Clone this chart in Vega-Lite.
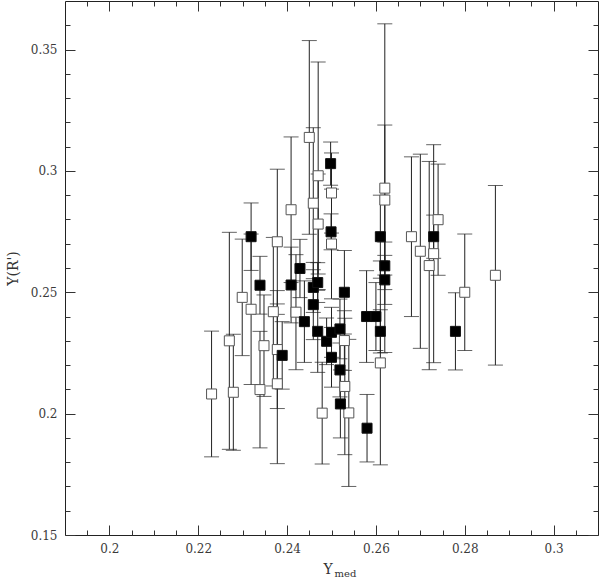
{
  "$schema": "https://vega.github.io/schema/vega-lite/v6.json",
  "width": 533,
  "height": 534,
  "autosize": {"type": "none"},
  "padding": {"left": 65, "top": 1, "right": 1, "bottom": 43},
  "background": "white",
  "config": {
    "view": {"stroke": "#222", "strokeWidth": 1},
    "axis": {
      "labelFont": "DejaVu Serif", "titleFont": "DejaVu Serif",
      "labelFontSize": 12, "labelColor": "#3a3a3a", "titleColor": "#333",
      "titleFontWeight": "normal", "tickColor": "#333", "tickWidth": 1,
      "domain": false, "grid": false
    }
  },
  "data": {"values": [
    {"x":0.2230,"y":0.2081,"e":0.0259,"k":"open"},
    {"x":0.2270,"y":0.2300,"e":0.0447,"k":"open"},
    {"x":0.2279,"y":0.2088,"e":0.0239,"k":"open"},
    {"x":0.2299,"y":0.2479,"e":0.0240,"k":"open"},
    {"x":0.2319,"y":0.2430,"e":0.0310,"k":"open"},
    {"x":0.2339,"y":0.2099,"e":0.0240,"k":"open"},
    {"x":0.2348,"y":0.2280,"e":0.0209,"k":"open"},
    {"x":0.2369,"y":0.2420,"e":0.0306,"k":"open"},
    {"x":0.2378,"y":0.2708,"e":0.0299,"k":"open"},
    {"x":0.2378,"y":0.2264,"e":0.0243,"k":"open"},
    {"x":0.2378,"y":0.2123,"e":0.0329,"k":"open"},
    {"x":0.2409,"y":0.2840,"e":0.0300,"k":"open"},
    {"x":0.2420,"y":0.2418,"e":0.0237,"k":"open"},
    {"x":0.2450,"y":0.3138,"e":0.0399,"k":"open"},
    {"x":0.2459,"y":0.2867,"e":0.0311,"k":"open"},
    {"x":0.2470,"y":0.2980,"e":0.0469,"k":"open"},
    {"x":0.2470,"y":0.2781,"e":0.0206,"k":"open"},
    {"x":0.2479,"y":0.2002,"e":0.0210,"k":"open"},
    {"x":0.2500,"y":0.2909,"e":0.0165,"k":"open"},
    {"x":0.2500,"y":0.2699,"e":0.0226,"k":"open"},
    {"x":0.2529,"y":0.2301,"e":0.0123,"k":"open"},
    {"x":0.2530,"y":0.2112,"e":0.0281,"k":"open"},
    {"x":0.2539,"y":0.2003,"e":0.0303,"k":"open"},
    {"x":0.2610,"y":0.2209,"e":0.0420,"k":"open"},
    {"x":0.2620,"y":0.2929,"e":0.0677,"k":"open"},
    {"x":0.2620,"y":0.2880,"e":0.0309,"k":"open"},
    {"x":0.2680,"y":0.2729,"e":0.0329,"k":"open"},
    {"x":0.2700,"y":0.2669,"e":0.0400,"k":"open"},
    {"x":0.2720,"y":0.2610,"e":0.0429,"k":"open"},
    {"x":0.2730,"y":0.2659,"e":0.0449,"k":"open"},
    {"x":0.2740,"y":0.2799,"e":0.0229,"k":"open"},
    {"x":0.2800,"y":0.2500,"e":0.0240,"k":"open"},
    {"x":0.2869,"y":0.2570,"e":0.0370,"k":"open"},
    {"x":0.2319,"y":0.2729,"e":0.0139,"k":"filled"},
    {"x":0.2339,"y":0.2529,"e":0.0119,"k":"filled"},
    {"x":0.2389,"y":0.2240,"e":0.0139,"k":"filled"},
    {"x":0.2409,"y":0.2530,"e":0.0156,"k":"filled"},
    {"x":0.2429,"y":0.2598,"e":0.0120,"k":"filled"},
    {"x":0.2439,"y":0.2379,"e":0.0168,"k":"filled"},
    {"x":0.2459,"y":0.2449,"e":0.0144,"k":"filled"},
    {"x":0.2459,"y":0.2520,"e":0.0103,"k":"filled"},
    {"x":0.2469,"y":0.2540,"e":0.0082,"k":"filled"},
    {"x":0.2469,"y":0.2339,"e":0.0169,"k":"filled"},
    {"x":0.2489,"y":0.2298,"e":0.0096,"k":"filled"},
    {"x":0.2498,"y":0.3030,"e":0.0089,"k":"filled"},
    {"x":0.2499,"y":0.2749,"e":0.0074,"k":"filled"},
    {"x":0.2500,"y":0.2335,"e":0.0103,"k":"filled"},
    {"x":0.2500,"y":0.2232,"e":0.0123,"k":"filled"},
    {"x":0.2519,"y":0.2349,"e":0.0123,"k":"filled"},
    {"x":0.2519,"y":0.2180,"e":0.0111,"k":"filled"},
    {"x":0.2529,"y":0.2500,"e":0.0172,"k":"filled"},
    {"x":0.2520,"y":0.2040,"e":0.0140,"k":"filled"},
    {"x":0.2580,"y":0.1940,"e":0.0139,"k":"filled"},
    {"x":0.2579,"y":0.2400,"e":0.0189,"k":"filled"},
    {"x":0.2600,"y":0.2400,"e":0.0140,"k":"filled"},
    {"x":0.2610,"y":0.2729,"e":0.0171,"k":"filled"},
    {"x":0.2620,"y":0.2609,"e":0.0098,"k":"filled"},
    {"x":0.2620,"y":0.2551,"e":0.0101,"k":"filled"},
    {"x":0.2610,"y":0.2339,"e":0.0089,"k":"filled"},
    {"x":0.2730,"y":0.2729,"e":0.0089,"k":"filled"},
    {"x":0.2779,"y":0.2339,"e":0.0159,"k":"filled"}
  ]},
  "resolve": {"axis": {"x": "independent", "y": "independent"}},
  "layer": [
    {
      "mark": {"type": "errorbar", "color": "#222", "ticks": {"size": 15, "color": "#222"}, "rule": {"color": "#222", "strokeWidth": 1}},
      "encoding": {
        "x": {"field": "x", "type": "quantitative",
          "scale": {"domain": [0.19, 0.31], "nice": false, "zero": false},
          "axis": {"orient": "bottom", "values": [0.2, 0.22, 0.24, 0.26, 0.28, 0.3], "format": "~g",
            "tickSize": -10, "labelPadding": 18, "title": "Y", "titleFontSize": 14,
            "titleX": 258, "titleY": 38, "titleAlign": "left", "titleBaseline": "alphabetic"}},
        "y": {"field": "y", "type": "quantitative",
          "scale": {"domain": [0.15, 0.37], "nice": false, "zero": false},
          "axis": {"orient": "left", "values": [0.15, 0.2, 0.25, 0.3, 0.35], "format": "~g",
            "tickSize": -10, "labelPadding": 18, "title": "Y(R')", "titleFontSize": 14, "titlePadding": 10}},
        "yError": {"field": "e"}
      }
    },
    {
      "transform": [{"filter": "datum.k === 'open'"}],
      "mark": {"type": "point", "shape": "square", "filled": true, "fill": "white", "stroke": "#555", "strokeWidth": 1, "size": 100, "opacity": 1},
      "encoding": {
        "x": {"field": "x", "type": "quantitative",
          "axis": {"orient": "bottom", "values": [0.195,0.205,0.21,0.215,0.225,0.23,0.235,0.245,0.25,0.255,0.265,0.27,0.275,0.285,0.29,0.295,0.305],
            "tickSize": -5, "labels": false, "title": "med", "titleFontSize": 10,
            "titleX": 269, "titleY": 41, "titleAlign": "left", "titleBaseline": "alphabetic"}},
        "y": {"field": "y", "type": "quantitative",
          "axis": {"orient": "left", "values": [0.16,0.17,0.18,0.19,0.21,0.22,0.23,0.24,0.26,0.27,0.28,0.29,0.31,0.32,0.33,0.34,0.36],
            "tickSize": -5, "labels": false, "title": null}}
      }
    },
    {
      "transform": [{"filter": "datum.k === 'filled'"}],
      "mark": {"type": "point", "shape": "square", "filled": true, "fill": "black", "stroke": "#111", "strokeWidth": 1, "size": 100, "opacity": 1},
      "encoding": {
        "x": {"field": "x", "type": "quantitative",
          "axis": {"orient": "top", "values": [0.2, 0.22, 0.24, 0.26, 0.28, 0.3], "tickSize": -10, "labels": false, "title": null}},
        "y": {"field": "y", "type": "quantitative",
          "axis": {"orient": "right", "values": [0.15, 0.2, 0.25, 0.3, 0.35], "tickSize": -10, "labels": false, "title": null}}
      }
    },
    {
      "mark": {"type": "point", "opacity": 0},
      "encoding": {
        "x": {"field": "x", "type": "quantitative",
          "axis": {"orient": "top", "values": [0.195,0.205,0.21,0.215,0.225,0.23,0.235,0.245,0.25,0.255,0.265,0.27,0.275,0.285,0.29,0.295,0.305],
            "tickSize": -5, "labels": false, "title": null}},
        "y": {"field": "y", "type": "quantitative",
          "axis": {"orient": "right", "values": [0.16,0.17,0.18,0.19,0.21,0.22,0.23,0.24,0.26,0.27,0.28,0.29,0.31,0.32,0.33,0.34,0.36],
            "tickSize": -5, "labels": false, "title": null}}
      }
    }
  ]
}
